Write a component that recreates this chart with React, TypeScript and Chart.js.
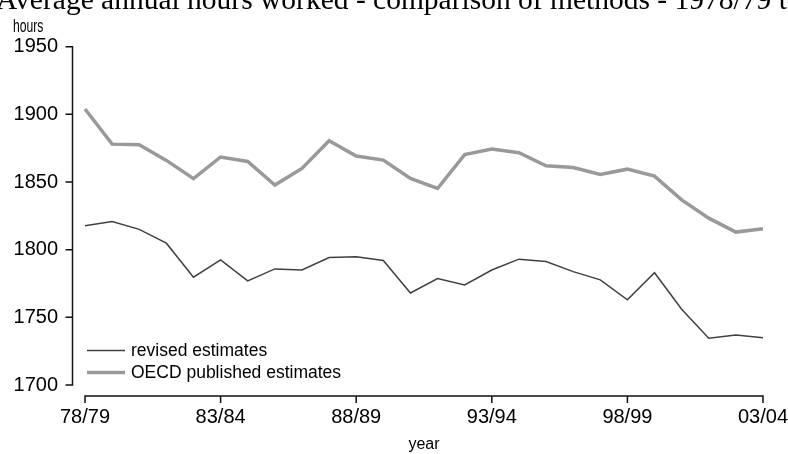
import React, { useEffect, useRef } from 'react';
import { Chart, registerables } from 'chart.js';

Chart.register(...registerables);

const titleText = 'Average annual hours worked - comparison of methods - 1978/79 to 2003/04';
const yAxisTitle = 'hours';
const xAxisTitle = 'year';

const years = [
  '78/79', '79/80', '80/81', '81/82', '82/83', '83/84', '84/85', '85/86', '86/87', '87/88',
  '88/89', '89/90', '90/91', '91/92', '92/93', '93/94', '94/95', '95/96', '96/97', '97/98',
  '98/99', '99/00', '00/01', '01/02', '02/03', '03/04',
];
const xTickLabels = ['78/79', '83/84', '88/89', '93/94', '98/99', '03/04'];

const revisedLabel = 'revised estimates';
const revised = [
  1817.6, 1820.8, 1815, 1804.8, 1779.7, 1792.5, 1776.9, 1785.8, 1785, 1794.2,
  1794.7, 1792, 1768, 1778.6, 1774, 1785, 1793, 1791.2, 1783.8, 1777.7,
  1762.9, 1783, 1756, 1734.5, 1737, 1735,
];

const oecdLabel = 'OECD published estimates';
const oecd = [
  1904, 1878, 1877.5, 1866, 1852.5, 1868.5, 1865.2, 1847.8, 1860, 1880.5,
  1869.2, 1866.2, 1852.6, 1845.2, 1870.3, 1874.3, 1871.6, 1862, 1860.7, 1855.6,
  1859.5, 1854.4, 1836.8, 1823.3, 1813, 1815.4,
];

const yMin = 1700;
const yMax = 1950;
const yStep = 50;

const FONT = '"Liberation Sans", Arial, sans-serif';

const decorPlugin = {
  id: 'decor',
  afterDraw(chart: any) {
    const { ctx, chartArea } = chart;
    const xs = chart.scales.x;
    const ys = chart.scales.y;
    ctx.save();

    // title (clipped at the top of the picture)
    ctx.fillStyle = '#000';
    ctx.font = '29.5px "Liberation Serif", "Times New Roman", serif';
    ctx.textAlign = 'left';
    ctx.textBaseline = 'alphabetic';
    ctx.fillText(titleText, -4, 8.5);

    // y axis title, horizontal above the axis
    ctx.save();
    ctx.font = '19px ' + FONT;
    ctx.translate(13, 31.5);
    ctx.scale(0.64, 1);
    ctx.fillText(yAxisTitle, 0, 0);
    ctx.restore();

    // detached y axis
    ctx.strokeStyle = '#111';
    ctx.lineWidth = 1.5;
    const axX = chartArea.left - 12.5;
    ctx.beginPath();
    ctx.moveTo(axX, ys.getPixelForValue(yMax));
    ctx.lineTo(axX, ys.getPixelForValue(yMin));
    for (const t of ys.ticks) {
      const py = ys.getPixelForValue(t.value);
      ctx.moveTo(axX - 7, py);
      ctx.lineTo(axX + 0.75, py);
    }
    ctx.stroke();

    // detached x axis
    const axY = chartArea.bottom + 11;
    ctx.beginPath();
    ctx.moveTo(xs.getPixelForValue(0), axY);
    ctx.lineTo(xs.getPixelForValue(years.length - 1), axY);
    years.forEach((y, i) => {
      if (xTickLabels.includes(y)) {
        const px = xs.getPixelForValue(i);
        ctx.moveTo(px, axY - 0.75);
        ctx.lineTo(px, axY + 7);
      }
    });
    ctx.stroke();

    // legend inside the plot, bottom-left
    const items = chart.data.datasets;
    const lx0 = chartArea.left + 2;
    const lx1 = chartArea.left + 40;
    const baseY = chartArea.bottom - 12.5;
    ctx.font = '17.5px ' + FONT;
    ctx.textBaseline = 'middle';
    items.forEach((ds: any, i: number) => {
      const ly = baseY - (items.length - 1 - i) * 22;
      ctx.strokeStyle = ds.borderColor;
      ctx.lineWidth = ds.borderWidth;
      ctx.beginPath();
      ctx.moveTo(lx0, ly);
      ctx.lineTo(lx1, ly);
      ctx.stroke();
      ctx.fillStyle = '#000';
      ctx.fillText(ds.label, lx1 + 6, ly + 0.5);
    });

    ctx.restore();
  },
};

export default function App() {
  const ref = useRef<HTMLCanvasElement>(null);

  useEffect(() => {
    if (!ref.current) return;
    const chart = new Chart(ref.current, {
      type: 'line',
      data: {
        labels: years,
        datasets: [
          {
            label: revisedLabel,
            data: revised,
            borderColor: '#404040',
            borderWidth: 1.5,
            pointRadius: 0,
            tension: 0,
            fill: false,
          },
          {
            label: oecdLabel,
            data: oecd,
            borderColor: '#999999',
            borderWidth: 3.5,
            pointRadius: 0,
            tension: 0,
            fill: false,
          },
        ],
      },
      options: {
        animation: false,
        responsive: false,
        maintainAspectRatio: false,
        layout: { padding: { left: 0, right: 0, top: 46.7, bottom: 0 } },
        plugins: {
          legend: { display: false },
          title: { display: false },
          tooltip: { enabled: false },
        },
        scales: {
          x: {
            type: 'category',
            offset: false,
            grid: { display: false, drawTicks: false },
            border: { display: false },
            ticks: {
              autoSkip: false,
              maxRotation: 0,
              minRotation: 0,
              padding: 20,
              color: '#000',
              font: { family: FONT, size: 20 },
              callback: (_v: any, i: number) => (xTickLabels.includes(years[i]) ? years[i] : ''),
            },
            title: {
              display: true,
              text: xAxisTitle,
              color: '#000',
              font: { family: FONT, size: 16 },
              padding: { top: 0, bottom: 0 },
            },
            afterFit: (s: any) => {
              s.height = 69;
              s.paddingLeft = 0;
              s.paddingRight = 25;
            },
          },
          y: {
            min: yMin,
            max: yMax,
            grid: { display: false, drawTicks: false },
            border: { display: false },
            ticks: {
              stepSize: yStep,
              padding: 27,
              color: '#000',
              font: { family: FONT, size: 20 },
              callback: (v: any) => String(v),
            },
            afterFit: (s: any) => {
              s.width = 85;
              s.paddingTop = 0;
              s.paddingBottom = 0;
            },
          },
        },
      },
      plugins: [decorPlugin],
    });
    return () => chart.destroy();
  }, []);

  return (
    <div style={{ position: 'fixed', left: 0, top: 0, width: 788, height: 454, background: '#fff' }}>
      <canvas ref={ref} width={788} height={454} style={{ display: 'block' }} />
    </div>
  );
}
